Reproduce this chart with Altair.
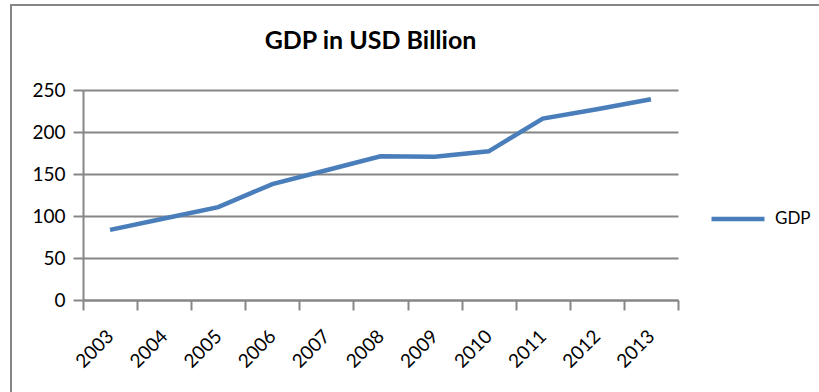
import altair as alt
import pandas as pd

years = ["2003", "2004", "2005", "2006", "2007", "2008", "2009", "2010", "2011", "2012", "2013"]
gdp = [83.5, 97, 110.5, 138, 154.5, 171, 170.5, 177, 216, 227, 239]
series = ["GDP"] * len(years)
y_ticks = [0, 50, 100, 150, 200, 250]

df = pd.DataFrame({"year": years, "gdp": gdp, "series": series})

GRAY = "#868686"
BLUE = "#4a7ebb"

line = alt.Chart(df).mark_line(strokeWidth=4.5).encode(
    x=alt.X(
        "year:O",
        bandPosition=0.5,
        scale=alt.Scale(type="band", paddingInner=0, paddingOuter=0),
        axis=alt.Axis(
            title=None,
            labelAngle=315,
            labelAlign="right",
            labelBaseline="middle",
            labelFont="Lato",
            labelFontSize=19,
            labelColor="black",
            labelPadding=23,
            tickBand="extent",
            tickSize=10,
            tickWidth=2,
            tickColor=GRAY,
            domainColor=GRAY,
            domainWidth=2,
            grid=False,
        ),
    ),
    y=alt.Y(
        "gdp:Q",
        scale=alt.Scale(domain=[0, 250], nice=False),
        axis=alt.Axis(
            title=None,
            values=y_ticks,
            labelFont="Lato",
            labelFontSize=19,
            labelColor="black",
            labelPadding=8,
            tickSize=10,
            tickWidth=2,
            tickColor=GRAY,
            domainColor=GRAY,
            domainWidth=2,
            grid=True,
            gridColor=GRAY,
            gridWidth=2,
        ),
    ),
    color=alt.Color(
        "series:N",
        scale=alt.Scale(range=[BLUE]),
        legend=alt.Legend(
            title=None,
            orient="none",
            legendX=626,
            legendY=100,
            padding=0,
            symbolType="stroke",
            symbolSize=2809,
            symbolStrokeWidth=4.5,
            labelFont="Lato",
            labelFontSize=17,
            labelColor="black",
            labelOffset=8,
        ),
    ),
)

frame_df = pd.DataFrame({"a": [0]})
top_border = alt.Chart(frame_df).mark_rule(color=GRAY, strokeWidth=2).encode(
    x=alt.value(-73), x2=alt.value(736), y=alt.value(-85)
)
left_border = alt.Chart(frame_df).mark_rule(color=GRAY, strokeWidth=2).encode(
    x=alt.value(-72), y=alt.value(-85), y2=alt.value(302)
)

chart = alt.layer(top_border, left_border, line).properties(
    width=595,
    height=210,
    autosize=alt.AutoSizeParams(type="none"),
    padding={"left": 83, "top": 90, "right": 141, "bottom": 92},
    title=alt.TitleParams(
        "GDP in USD Billion",
        font="Lato",
        fontSize=25,
        fontWeight="bold",
        color="black",
        anchor="middle",
        dx=-10,
        dy=100,
        baseline="alphabetic",
        offset=30,
    ),
).configure_view(stroke="transparent")

chart.save("out.html", embed_options={"renderer": "svg", "actions": False})
